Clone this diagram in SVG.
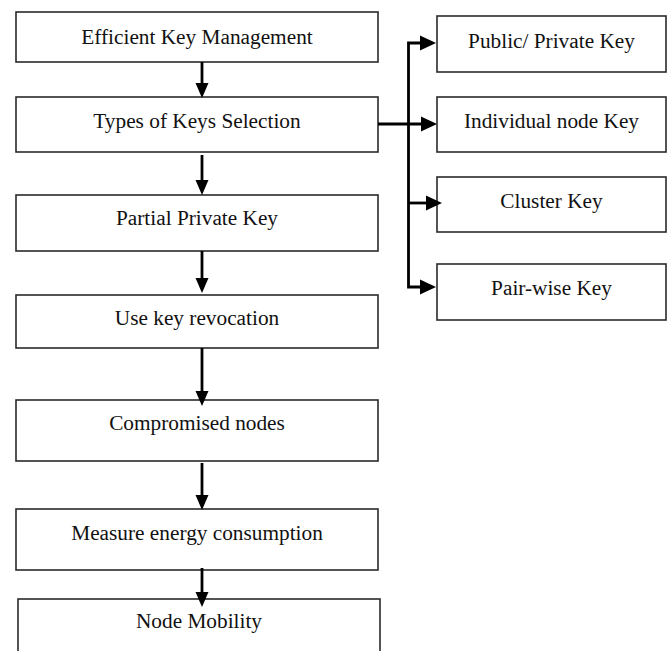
<svg xmlns="http://www.w3.org/2000/svg" width="668" height="651" viewBox="0 0 668 651">
  <style>
    .box { fill: #ffffff; stroke: #2a2a2a; stroke-width: 1.6; }
    .label { font-family: "Liberation Serif", "Times New Roman", serif; font-size: 21.3px; fill: #111111; text-anchor: middle; }
    .wire { fill: none; stroke: #000000; stroke-width: 2.8; }
    .head { fill: #000000; stroke: none; }
  </style>
  <defs>
    <!-- arrowheads drawn with the tip at the origin -->
    <polygon id="headDown" class="head" points="0,0 -6.5,-15 6.5,-15"/>
    <polygon id="headRight" class="head" points="0,0 -16,-7.5 -16,7.5"/>
  </defs>

  <rect width="668" height="651" fill="#ffffff"/>

  <!-- main flow -->
  <g id="efficient-key-management">
    <rect class="box" x="16" y="12" width="362" height="50"/>
    <text class="label" x="197" y="44">Efficient Key Management</text>
  </g>
  <g id="types-of-keys-selection">
    <rect class="box" x="16" y="97" width="362" height="55"/>
    <text class="label" x="197" y="128">Types of Keys Selection</text>
  </g>
  <g id="partial-private-key">
    <rect class="box" x="16" y="195" width="362" height="56"/>
    <text class="label" x="197" y="225">Partial Private Key</text>
  </g>
  <g id="use-key-revocation">
    <rect class="box" x="16" y="295" width="362" height="53"/>
    <text class="label" x="197" y="325">Use key revocation</text>
  </g>
  <g id="compromised-nodes">
    <rect class="box" x="16" y="400" width="362" height="61"/>
    <text class="label" x="197" y="430">Compromised nodes</text>
  </g>
  <g id="measure-energy-consumption">
    <rect class="box" x="16" y="509" width="362" height="61"/>
    <text class="label" x="197" y="540">Measure energy consumption</text>
  </g>
  <g id="node-mobility">
    <rect class="box" x="18" y="599" width="362" height="70"/>
    <text class="label" x="199" y="628">Node Mobility</text>
  </g>

  <!-- key types -->
  <g id="public-private-key">
    <rect class="box" x="437" y="16" width="229" height="56"/>
    <text class="label" x="551.5" y="48">Public/ Private Key</text>
  </g>
  <g id="individual-node-key">
    <rect class="box" x="437" y="97" width="229" height="55"/>
    <text class="label" x="551.5" y="128">Individual node Key</text>
  </g>
  <g id="cluster-key">
    <rect class="box" x="437" y="177" width="229" height="55"/>
    <text class="label" x="551.5" y="208">Cluster Key</text>
  </g>
  <g id="pair-wise-key">
    <rect class="box" x="437" y="264" width="229" height="56"/>
    <text class="label" x="551.5" y="295">Pair-wise Key</text>
  </g>

  <!-- connectors -->
  <g id="connectors">
    <line class="wire" x1="202" y1="62" x2="202" y2="84"/>
    <use href="#headDown" x="202" y="98"/>
    <line class="wire" x1="202" y1="155" x2="202" y2="182"/>
    <use href="#headDown" x="202" y="195"/>
    <line class="wire" x1="202" y1="251" x2="202" y2="280"/>
    <use href="#headDown" x="202" y="293"/>
    <line class="wire" x1="202" y1="348" x2="202" y2="392"/>
    <use href="#headDown" x="202" y="406"/>
    <line class="wire" x1="202" y1="463" x2="202" y2="497"/>
    <use href="#headDown" x="202" y="510"/>
    <line class="wire" x1="202" y1="568" x2="202" y2="594"/>
    <use href="#headDown" x="202" y="607"/>

    <!-- branch to the key types -->
    <line class="wire" x1="378" y1="124" x2="423" y2="124"/>
    <use href="#headRight" x="437" y="124"/>
    <path class="wire" d="M 422 43 H 408.5 V 287 H 422"/>
    <use href="#headRight" x="436" y="43"/>
    <use href="#headRight" x="436" y="287"/>
    <line class="wire" x1="408.5" y1="203" x2="428" y2="203"/>
    <use href="#headRight" x="442" y="203"/>
  </g>
</svg>
